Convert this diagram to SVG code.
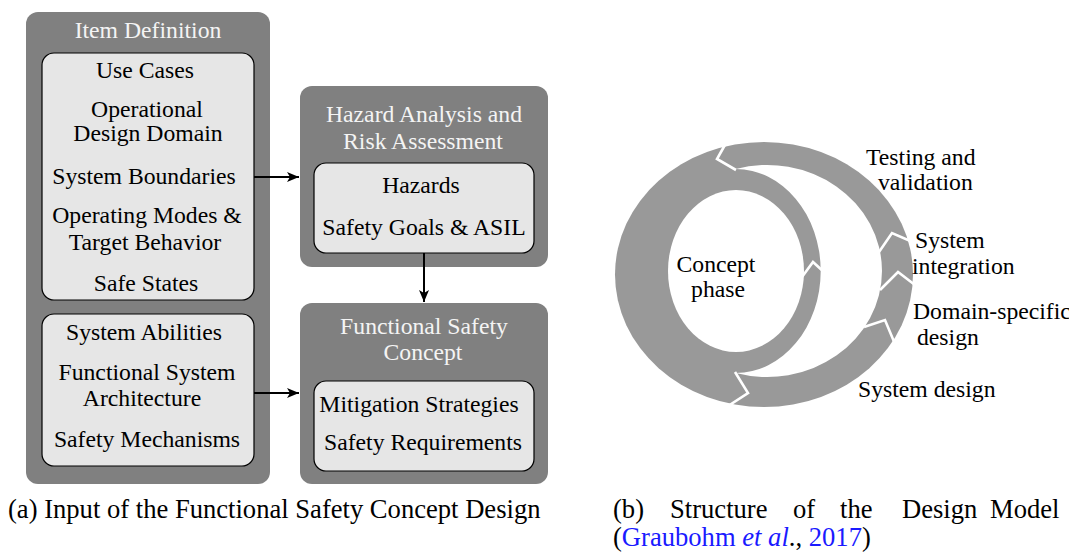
<svg xmlns="http://www.w3.org/2000/svg" width="1069" height="554" viewBox="0 0 1069 554">
<defs>
<style>
text{font-family:"Liberation Serif","Times New Roman",serif;font-size:23.7px;fill:#000}
.t{text-anchor:middle}
.w{fill:#f4f4f4}
.cap{font-size:26.6px}
.outer{fill:#808080}
.inner{fill:#e6e6e6;stroke:#000;stroke-width:1.2}
.conn{stroke:#000;stroke-width:2;fill:none}
.cut{fill:none;stroke:#fff;stroke-width:2.6;stroke-linejoin:miter}
.ring{fill:#999}
.blue{fill:#1a1aff}
</style>
<marker id="ah" viewBox="0 0 12 10" refX="12" refY="5" markerWidth="12" markerHeight="10" markerUnits="userSpaceOnUse" orient="auto">
<path d="M0,0 L12,5 L0,10 L3,5 Z" fill="#000"/>
</marker>
</defs>
<rect width="1069" height="554" fill="#fff"/>

<g id="item-definition">
<rect class="outer" x="26" y="12" width="244" height="472" rx="12"/>
<text class="t w" x="148" y="38">Item Definition</text>
<rect class="inner" x="42" y="53" width="212" height="247" rx="12"/>
<text class="t" x="145" y="78">Use Cases</text>
<text class="t" x="147" y="117">Operational</text>
<text class="t" x="148" y="141">Design Domain</text>
<text class="t" x="144" y="184">System Boundaries</text>
<text class="t" x="147" y="223">Operating Modes &amp;</text>
<text class="t" x="145" y="250">Target Behavior</text>
<text class="t" x="146" y="291">Safe States</text>
<rect class="inner" x="42" y="314" width="212" height="152" rx="12"/>
<text class="t" x="144" y="340">System Abilities</text>
<text class="t" x="147" y="380">Functional System</text>
<text class="t" x="142" y="406">Architecture</text>
<text class="t" x="147" y="447">Safety Mechanisms</text>
</g>

<g id="hazard-analysis">
<rect class="outer" x="300" y="86" width="248" height="181" rx="12"/>
<text class="t w" x="424" y="122">Hazard Analysis and</text>
<text class="t w" x="423" y="149">Risk Assessment</text>
<rect class="inner" x="314" y="163" width="220" height="90" rx="12"/>
<text class="t" x="421" y="193">Hazards</text>
<text class="t" x="424" y="235">Safety Goals &amp; ASIL</text>
</g>

<g id="functional-safety-concept">
<rect class="outer" x="300" y="303" width="248" height="181" rx="12"/>
<text class="t w" x="424" y="334">Functional Safety</text>
<text class="t w" x="423" y="360">Concept</text>
<rect class="inner" x="314" y="381" width="220" height="90" rx="12"/>
<text class="t" x="419" y="412">Mitigation Strategies</text>
<text class="t" x="423" y="450">Safety Requirements</text>
</g>

<g id="connectors">
<line class="conn" x1="254" y1="177" x2="299" y2="177" marker-end="url(#ah)"/>
<line class="conn" x1="254" y1="393" x2="299" y2="393" marker-end="url(#ah)"/>
<line class="conn" x1="424" y1="253" x2="424" y2="302" marker-end="url(#ah)"/>
</g>

<text class="cap" x="8" y="518">(a) Input of the Functional Safety Concept Design</text>

<g id="design-model">
<ellipse class="ring" cx="764" cy="274.5" rx="149" ry="132.5"/>
<path d="M735.7,169 A115,106 0 1 1 735.7,373 A85,102 0 1 0 735.7,169 Z" fill="#fff"/>
<ellipse cx="736" cy="271" rx="68" ry="81" fill="#fff"/>
<polyline class="cut" points="728,139.5 717,159 736,170"/>
<polyline class="cut" points="735,372 748,393 725,408"/>
<polyline class="cut" points="879,252 892,233 915,243"/>
<polyline class="cut" points="880,290 898,272 915,285"/>
<polyline class="cut" points="864,327 885,320 895,344"/>
<polyline class="cut" points="802,277 813,262 825,273"/>
</g>
<g id="labels">
<text class="t" x="716" y="272">Concept</text>
<text class="t" x="718" y="297">phase</text>
<text x="866" y="165">Testing and</text>
<text x="878" y="190">validation</text>
<text x="915" y="248">System</text>
<text x="912" y="274">integration</text>
<text x="913" y="319">Domain-specific</text>
<text x="917" y="345">design</text>
<text x="858" y="397">System design</text>
</g>

<text class="cap" y="518"><tspan x="613">(b)</tspan><tspan x="670">Structure</tspan><tspan x="793">of</tspan><tspan x="840">the</tspan><tspan x="902">Design</tspan><tspan x="990">Model</tspan></text>
<text class="cap" x="613" y="546">(<tspan class="blue">Graubohm </tspan><tspan class="blue" font-style="italic">et al</tspan>., <tspan class="blue">2017</tspan>)</text>
</svg>
